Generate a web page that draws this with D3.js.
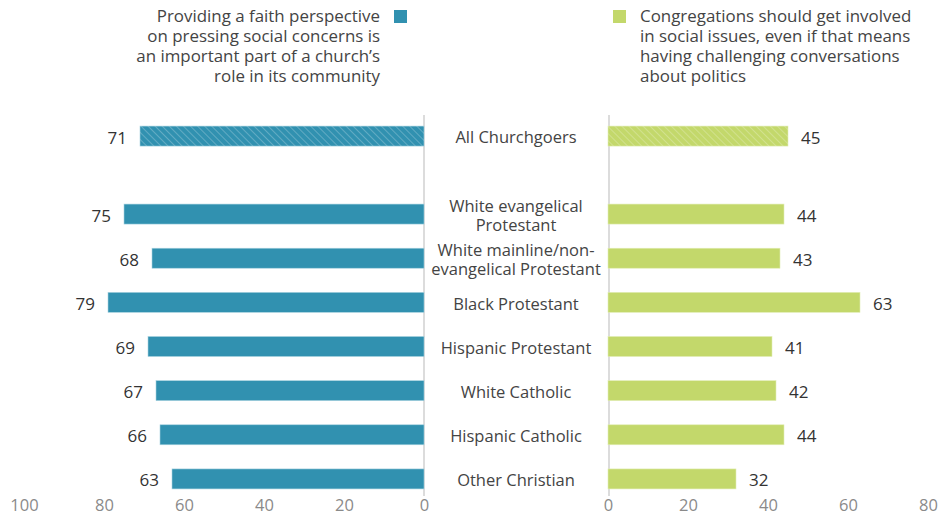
<!DOCTYPE html>
<html>
<head>
<meta charset="utf-8">
<script src="https://cdn.jsdelivr.net/npm/d3@7"></script>
<style>
  body { margin: 0; background: #fff; }
  svg text { font-family: "Open Sans", "Noto Sans", sans-serif; }
</style>
</head>
<body>
<div id="chart"></div>
<script>
// data
const groups = ["White evangelical|Protestant", "White mainline/non-|evangelical Protestant", "Black Protestant",
                "Hispanic Protestant", "White Catholic", "Hispanic Catholic", "Other Christian"];
const faithVals = [75, 68, 79, 69, 67, 66, 63];
const involvedVals = [44, 43, 63, 41, 42, 44, 32];
const totalLabel = "All Churchgoers";
const totalFaith = 71;
const totalInvolved = 45;
const leftTicks = [100, 80, 60, 40, 20, 0];
const rightTicks = [0, 20, 40, 60, 80];
const legendLeft = ["Providing a faith perspective", "on pressing social concerns is",
                    "an important part of a church\u2019s", "role in its community"];
const legendRight = ["Congregations should get involved", "in social issues, even if that means",
                     "having challenging conversations", "about politics"];

const width = 940, height = 517;
const blue = "#3191b0", green = "#c3d86b";

var svg = d3.select("#chart").append("svg").attr("width", width).attr("height", height);

var defs = svg.append("defs");
[["hatchBlue", blue], ["hatchGreen", green]].forEach(function(p){
    var pat = defs.append("pattern").attr("id", p[0]).attr("patternUnits", "userSpaceOnUse")
        .attr("width", 5).attr("height", 5).attr("patternTransform", "rotate(-45)");
    pat.append("rect").attr("width", 5).attr("height", 5).attr("fill", p[1]);
    pat.append("line").attr("x1", 0).attr("y1", 0).attr("x2", 0).attr("y2", 5)
        .attr("stroke", "#fff").attr("stroke-opacity", 0.4).attr("stroke-width", 1.2);
});

var xLeft = d3.scaleLinear().domain([0, 100]).range([424, 24]);
var xRight = d3.scaleLinear().domain([0, 80]).range([608, 928]);
var y = d3.scaleBand().domain(groups).range([192, 501]).paddingInner(0.55).paddingOuter(0.275);
var bh = 20;
var yTotal = y(groups[0]) + y.bandwidth()/2 - 78;

// axis lines
svg.append("line").attr("x1", 424).attr("x2", 424).attr("y1", 115).attr("y2", 496)
    .attr("stroke", "#dcdcdc").attr("stroke-width", 2);
svg.append("line").attr("x1", 609).attr("x2", 609).attr("y1", 115).attr("y2", 496)
    .attr("stroke", "#dcdcdc").attr("stroke-width", 2);

// tick labels
var axL = d3.axisBottom(xLeft).tickValues(leftTicks).tickSize(0).tickPadding(0);
var axR = d3.axisBottom(xRight).tickValues(rightTicks).tickSize(0).tickPadding(0);
[axL, axR].forEach(function(ax){
    var g = svg.append("g").attr("transform", "translate(0,499)").call(ax);
    g.select(".domain").remove();
    g.selectAll("text").attr("font-size", 16.5).attr("fill", "#8a8a8a")
        .attr("dy", "0.71em").style("font-family", "'Open Sans', sans-serif");
});

function drawRow(label, fv, iv, cy, hatched){
    svg.append("rect").attr("x", xLeft(fv)).attr("y", cy - bh/2)
        .attr("width", xLeft(0) - xLeft(fv)).attr("height", bh)
        .attr("fill", hatched ? "url(#hatchBlue)" : blue)
        .attr("stroke", "#a9d3e0").attr("stroke-width", 0.6);
    svg.append("rect").attr("x", xRight(0)).attr("y", cy - bh/2)
        .attr("width", xRight(iv) - xRight(0)).attr("height", bh)
        .attr("fill", hatched ? "url(#hatchGreen)" : green)
        .attr("stroke", "#e2edb6").attr("stroke-width", 0.6);
    svg.append("text").attr("x", xLeft(fv) - 13).attr("y", cy + 1.5).attr("dy", "0.35em")
        .attr("text-anchor", "end").attr("font-size", 17).attr("fill", "#333").text(fv);
    svg.append("text").attr("x", xRight(iv) + 13).attr("y", cy + 1.5).attr("dy", "0.35em")
        .attr("text-anchor", "start").attr("font-size", 17).attr("fill", "#333").text(iv);
    var lines = label.split("|");
    var t = svg.append("text").attr("x", 516).attr("text-anchor", "middle")
        .attr("font-size", 16.5).attr("fill", "#444");
    lines.forEach(function(l, i){
        t.append("tspan").attr("x", 516)
            .attr("y", cy + 1.5 + (i - (lines.length - 1)/2) * 19).attr("dy", "0.35em").text(l);
    });
}

drawRow(totalLabel, totalFaith, totalInvolved, yTotal, true);
groups.forEach(function(g, i){
    drawRow(g, faithVals[i], involvedVals[i], y(g) + y.bandwidth()/2, false);
});

// legend
svg.append("rect").attr("x", 394).attr("y", 10).attr("width", 13).attr("height", 13).attr("fill", blue);
svg.append("rect").attr("x", 613).attr("y", 10).attr("width", 13).attr("height", 13).attr("fill", green);
legendLeft.forEach(function(l, i){
    svg.append("text").attr("x", 380).attr("y", 22 + i*20).attr("text-anchor", "end")
        .attr("font-size", 16.9).attr("fill", "#444").text(l);
});
legendRight.forEach(function(l, i){
    svg.append("text").attr("x", 640).attr("y", 22 + i*20).attr("text-anchor", "start")
        .attr("font-size", 16.9).attr("fill", "#444").text(l);
});
</script>
</body>
</html>
